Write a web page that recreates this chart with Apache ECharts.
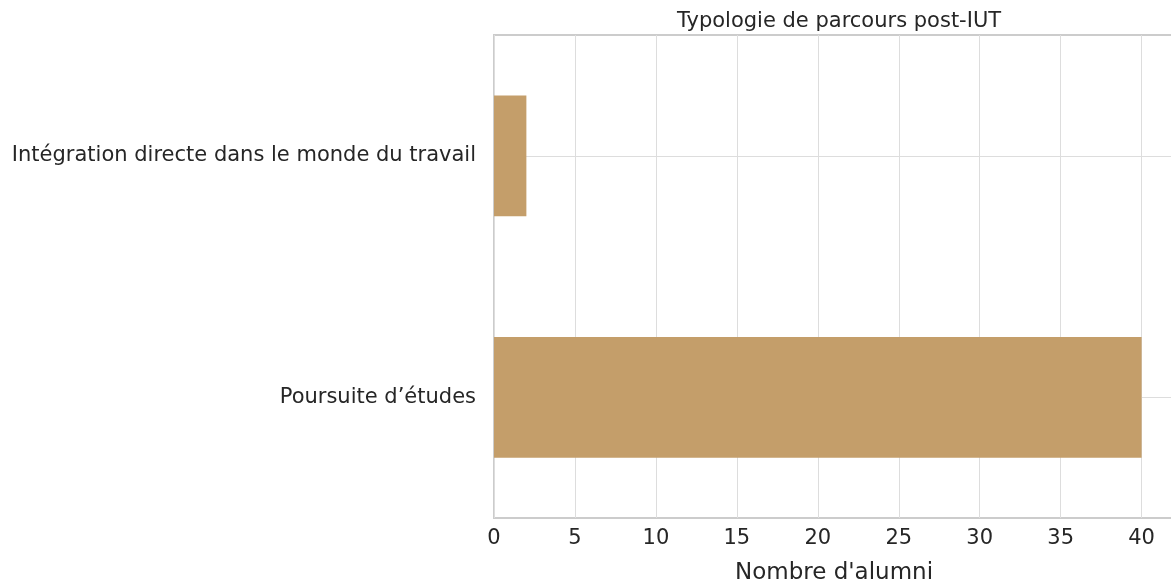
<!DOCTYPE html>
<html>
<head>
<meta charset="utf-8">
<script src="https://cdn.jsdelivr.net/npm/echarts@6/dist/echarts.min.js"></script>
<style>
  html, body { margin: 0; padding: 0; background: #fff; }
  #chart { width: 1171px; height: 587px; }
</style>
</head>
<body>
<div id="chart"></div>
<script>
// categories listed bottom to top
const categories = ['Poursuite d\u2019études', 'Intégration directe dans le monde du travail'];
const alumniCounts = [40, 2];
const xTicks = [0, 5, 10, 15, 20, 25, 30, 35, 40];

const chart = echarts.init(document.getElementById('chart'));
chart.setOption({
  animation: false,
  textStyle: { fontFamily: 'DejaVu Sans', color: '#262626' },
  title: {
    text: 'Typologie de parcours post-IUT',
    left: 834, top: 6, textAlign: 'center',
    textStyle: { fontFamily: 'DejaVu Sans', fontSize: 21, fontWeight: 'normal', color: '#262626' }
  },
  grid: { left: 494, right: -3, top: 35, bottom: 69, containLabel: false,
          outerBoundsMode: 'none',
          show: true, borderColor: '#cccccc', borderWidth: 2 },
  xAxis: {
    type: 'value', min: 0, max: 42, interval: 5,
    name: "Nombre d'alumni", nameLocation: 'middle', nameGap: 44,
    nameTextStyle: { fontSize: 23, color: '#262626', fontFamily: 'DejaVu Sans' },
    axisLine: { show: false },
    axisTick: { show: false },
    axisLabel: {
      fontSize: 21, color: '#262626', margin: 10,
      formatter: v => xTicks.includes(v) ? String(v) : ''
    },
    splitLine: { show: true, lineStyle: { color: '#dddddd', width: 1 } }
  },
  yAxis: {
    type: 'category', data: categories,
    axisLine: { show: false },
    axisTick: { show: false },
    axisLabel: { fontSize: 21, color: '#262626', margin: 18 },
    splitLine: { show: false }
  },
  series: [{
    type: 'bar',
    data: alumniCounts,
    barWidth: '50%',
    itemStyle: { color: '#c49e6a' },
    markLine: {
      silent: true, symbol: 'none', label: { show: false },
      lineStyle: { color: '#dddddd', width: 1, type: 'solid' },
      z: 0,
      data: categories.map(c => ({ yAxis: c }))
    },
    z: 2
  }]
});
</script>
</body>
</html>
